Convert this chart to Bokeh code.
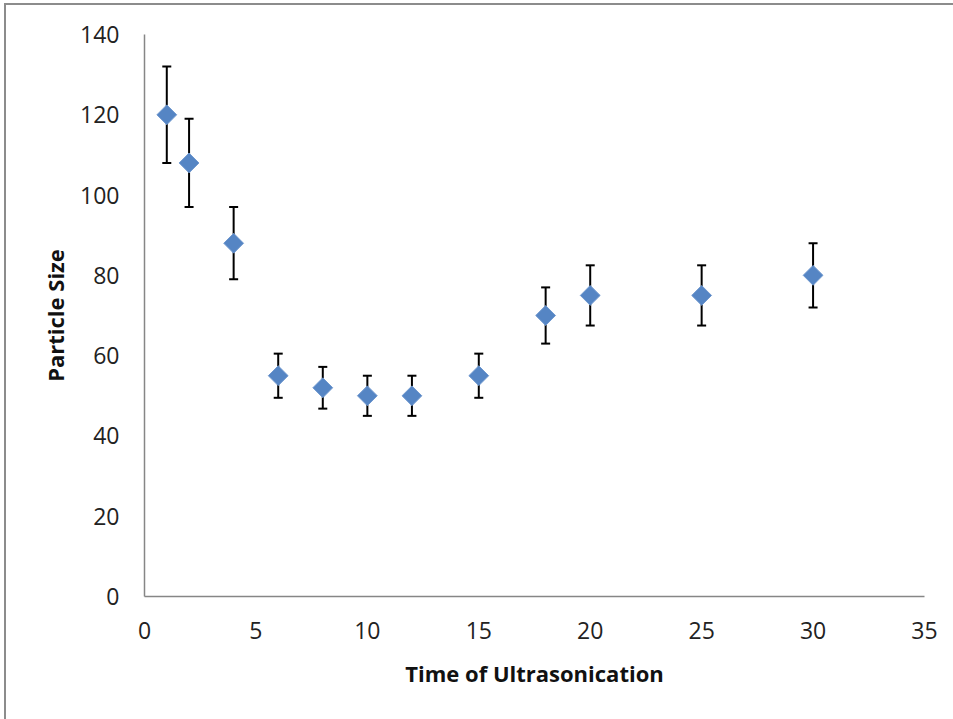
import numpy as np
from bokeh.plotting import figure
from bokeh.models import ColumnDataSource, Range1d, Whisker, TeeHead, FixedTicker
from bokeh.embed import file_html
from bokeh.resources import INLINE

# data
time = [1, 2, 4, 6, 8, 10, 12, 15, 18, 20, 25, 30]
size = [120, 108, 88, 55, 52, 50, 50, 55, 70, 75, 75, 80]
err = [12, 11, 9, 5.5, 5.2, 5, 5, 5.5, 7, 7.5, 7.5, 8]
x_ticks = [0, 5, 10, 15, 20, 25, 30, 35]
y_ticks = [0, 20, 40, 60, 80, 100, 120, 140]

upper = [s + e for s, e in zip(size, err)]
lower = [s - e for s, e in zip(size, err)]
src = ColumnDataSource(dict(x=time, y=size, upper=upper, lower=lower))

p = figure(width=949, height=716, output_backend="svg", toolbar_location=None,
           x_range=Range1d(0, 35), y_range=Range1d(0, 140),
           min_border_left=138, min_border_right=31, min_border_top=29, min_border_bottom=125)
p.margin = (3, 0, 0, 4)
p.styles = {"border-left": "2px solid #8c8c8c", "border-top": "2px solid #8c8c8c"}
p.outline_line_color = None
p.grid.visible = False
p.background_fill_color = "white"

for ax in (p.xaxis[0], p.yaxis[0]):
    ax.major_tick_out = 0
    ax.major_tick_in = 0
    ax.minor_tick_out = 0
    ax.minor_tick_in = 0
    ax.axis_line_color = "#868686"
    ax.axis_line_width = 1.5
    ax.major_label_text_font = "Open Sans"
    ax.major_label_text_font_size = "23px"
    ax.major_label_text_color = "#222222"
    ax.axis_label_text_font = "Open Sans"
    ax.axis_label_text_font_style = "bold"
    ax.axis_label_text_font_size = "22px"
    ax.axis_label_text_color = "#111111"

p.xaxis.ticker = FixedTicker(ticks=x_ticks)
p.yaxis.ticker = FixedTicker(ticks=y_ticks)
p.xaxis.axis_label = "Time of Ultrasonication"
p.yaxis.axis_label = "Particle Size"
p.xaxis.major_label_standoff = 25
p.yaxis.major_label_standoff = 25
p.xaxis.axis_label_standoff = 16
p.yaxis.axis_label_standoff = 7

w = Whisker(base="x", upper="upper", lower="lower", source=src, dimension="height",
            line_color="black", line_width=2,
            upper_head=TeeHead(size=9, line_color="black", line_width=2),
            lower_head=TeeHead(size=9, line_color="black", line_width=2))
p.add_layout(w)

p.scatter("x", "y", source=src, marker="square", size=14, angle=np.pi / 4,
          fill_color="#5585c4", line_color="#6f98cf", line_width=1)

open("out.html", "w").write(file_html(p, INLINE))
